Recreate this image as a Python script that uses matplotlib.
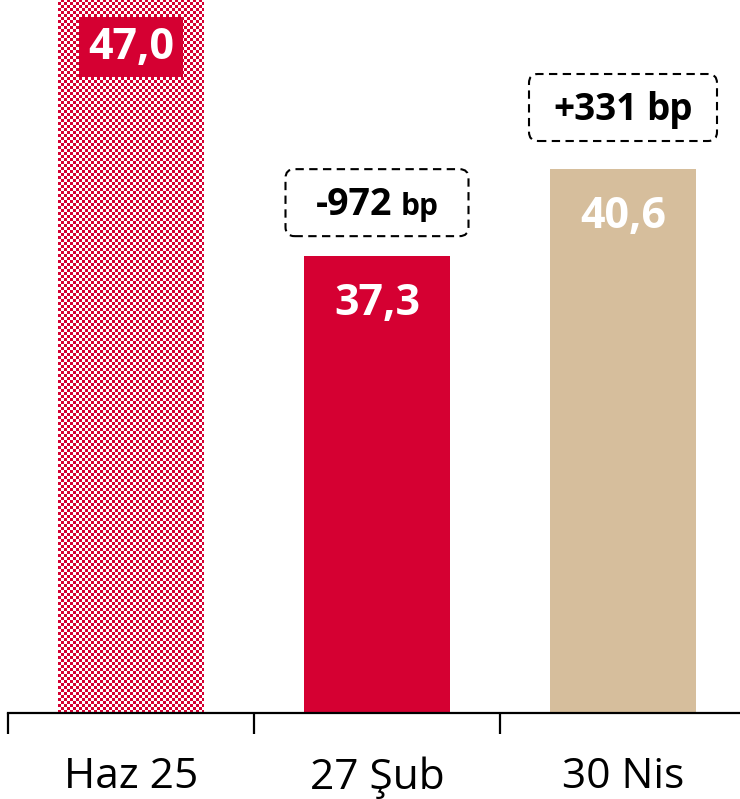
import numpy as np
import matplotlib
matplotlib.use("Agg")
import matplotlib.pyplot as plt
from matplotlib.patches import FancyBboxPatch
from matplotlib.transforms import IdentityTransform
from matplotlib.colors import to_rgb

# --- data ---
categories = ["Haz 25", "27 Şub", "30 Nis"]
values = [47.0, 37.3, 40.6]
value_labels = ["47,0", "37,3", "40,6"]
change_numbers = [None, "-972", "+331"]
change_units = [None, "bp", "bp"]

RED = "#D50032"
TAN = "#D6BE9C"

plt.rcParams["font.family"] = ["Open Sans", "DejaVu Sans"]

W, H = 740, 799
fig = plt.figure(figsize=(W / 100, H / 100), dpi=100)
ax = fig.add_axes([8 / W, 86 / H, 738 / W, 713 / H])
ax.set_xlim(-0.5, 2.5)
ax.set_ylim(20, 47.0)
ax.patch.set_alpha(0)

x = np.arange(len(categories))
bar_w = 0.593
bars = ax.bar(x, values, width=bar_w, color=[RED, RED, TAN], zorder=2)

# checkered fill for the first bar, placed pixel-exact
b0 = bars[0]
b0.set_facecolor("none")
bx0, bx1 = b0.get_x(), b0.get_x() + b0.get_width()
(px0, py0), (px1, py1) = ax.transData.transform([(bx0, 20), (bx1, values[0])])
wpx = int(round(px1 - px0))
hpx = int(round(min(py1, H) - py0))
ii, jj = np.indices((hpx, wpx))
cell = 3
mask = ((ii // cell + jj // cell) % 2 == 0)
img = np.ones((hpx, wpx, 3))
img[mask] = to_rgb(RED)
fig.figimage(img, xo=int(round(px0)), yo=int(round(py0)), origin="lower", zorder=-1)

# axes styling
for s in ("top", "left", "right"):
    ax.spines[s].set_visible(False)
ax.spines["bottom"].set_linewidth(1.6)
ax.spines["bottom"].set_zorder(3)
ax.set_yticks([])
ax.set_xticks(x)
ax.set_xticklabels(categories, fontsize=30.5)
ax.tick_params(axis="x", which="major", length=0, pad=31)
ax.set_xticks([-0.5, 0.5, 1.5, 2.5], minor=True)
ax.tick_params(axis="x", which="minor", length=15, width=1.6, color="black")

# value labels inside bars
for i, (xi, v, lab) in enumerate(zip(x, values, value_labels)):
    kw = {}
    if i == 0:
        kw["bbox"] = dict(boxstyle="square,pad=0.2", fc=RED, ec="none")
    ax.annotate(lab, xy=(xi, v), xytext=(0, -34), textcoords="offset points",
                ha="center", va="center", fontsize=31, fontweight="bold",
                color="white", zorder=4, **kw)

# dashed change boxes above bars
renderer = fig.canvas.get_renderer()
box_gap = [None, 53.5, 61.5]
box_size = [None, (183, 67), (188, 67)]
num_size = [None, 27, 26.5]
unit_size = [None, 21.5, 26.5]
for i in range(len(values)):
    if change_numbers[i] is None:
        continue
    cx, top = ax.transData.transform((x[i], values[i]))
    cy = top + box_gap[i]
    bw, bh = box_size[i]
    box = FancyBboxPatch((cx - bw / 2, cy - bh / 2), bw, bh,
                         boxstyle="round,pad=0,rounding_size=9",
                         transform=IdentityTransform(), fill=False,
                         ec="black", lw=1.5, ls=(0, (4, 2.6)))
    fig.add_artist(box)
    base = cy - 12
    t1 = fig.text(0, base, change_numbers[i], transform=IdentityTransform(),
                  fontsize=num_size[i], fontweight="bold", ha="left", va="baseline")
    t2 = fig.text(0, base, change_units[i], transform=IdentityTransform(),
                  fontsize=unit_size[i], fontweight="bold", ha="left", va="baseline")
    w1 = t1.get_window_extent(renderer).width
    w2 = t2.get_window_extent(renderer).width
    gap = 0.26 * unit_size[i] * 100 / 72
    total = w1 + gap + w2
    t1.set_x(cx - total / 2)
    t2.set_x(cx - total / 2 + w1 + gap)

fig.savefig("out.png", dpi=100)
